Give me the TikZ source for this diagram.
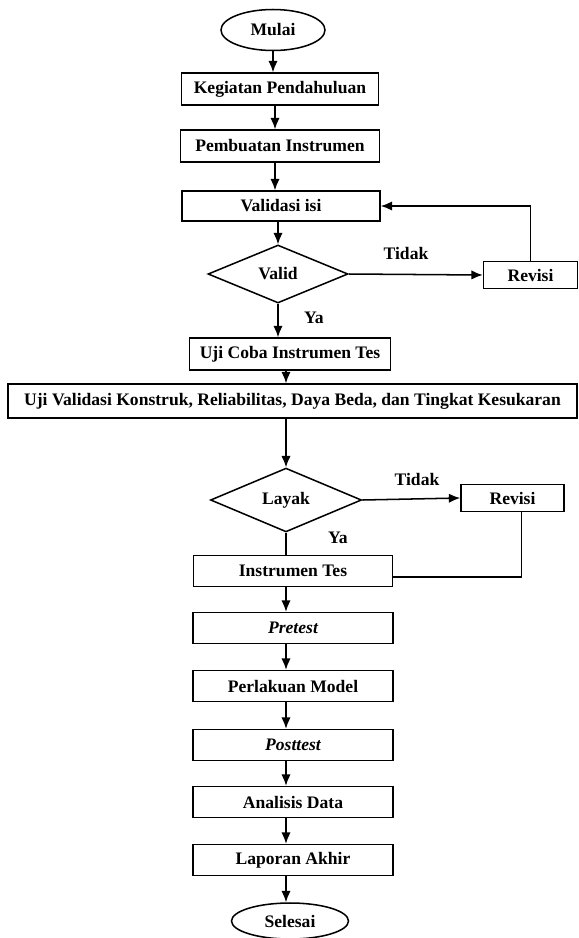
\documentclass[tikz,border=0pt]{standalone}
\usepackage{fontspec}
\setmainfont{Liberation Serif}
\usepackage{tikz}
\usetikzlibrary{calc, shapes.geometric, arrows.meta, positioning}

\begin{document}
\begin{tikzpicture}[x=0.03cm, y=-0.03cm, >=Latex]
    \tikzstyle{terminal} = [ellipse, draw, line width=1.3pt, inner sep=0pt, font=\fontsize{15}{18}\selectfont\bfseries]
    \tikzstyle{block} = [rectangle, draw, line width=1.3pt, inner sep=0pt, minimum width=6cm, minimum height=0.93cm, font=\fontsize{15}{18}\selectfont\bfseries]
    \tikzstyle{decision} = [diamond, draw, line width=1.3pt, inner sep=0pt, minimum height=1.74cm, font=\fontsize{15}{18}\selectfont\bfseries]
    \tikzstyle{label} = [font=\fontsize{15}{18}\selectfont\bfseries]
    \tikzstyle{line} = [draw, -{Latex[length=3.4mm, width=2.8mm]}, line width=1.3pt]
    \tikzstyle{joint} = [draw, line width=1.3pt]

    \useasboundingbox (0,0) rectangle (578,938);

    \node [terminal, minimum width=3.12cm, minimum height=1.23cm] (mulai) at (273,30) {Mulai};
    \node [block, minimum width=5.91cm, minimum height=0.96cm] (kegiatan) at (280,89) {Kegiatan Pendahuluan};
    \node [block, minimum width=5.97cm, minimum height=0.96cm] (pembuatan) at (280,146) {Pembuatan Instrumen};
    \node [block, minimum width=5.94cm, minimum height=0.9cm] (validasi) at (281,206) {Validasi isi};
    \node [decision, minimum width=4.2cm] (valid) at (278,274) {Valid};
    \node [block, minimum width=2.82cm, minimum height=0.81cm] (revisiA) at (530.5,275) {Revisi};
    \node [block, minimum width=6.03cm, minimum height=0.96cm] (ujicoba) at (290,354) {Uji Coba Instrumen Tes};
    \node [block, minimum width=17.07cm, minimum height=1.02cm] (ujivalidasi) at (292.5,401) {Uji Validasi Konstruk, Reliabilitas, Daya Beda, dan Tingkat Kesukaran};
    \node [decision, minimum width=4.53cm] (layak) at (286,500) {Layak};
    \node [block, minimum width=3.09cm, minimum height=0.81cm] (revisiB) at (512.5,498) {Revisi};
    \node [block, minimum width=5.97cm] (instrumen) at (293,571) {Instrumen Tes};
    \node [block] (pretest) at (293,628) {\itshape Pretest};
    \node [block] (perlakuan) at (293,686) {Perlakuan Model};
    \node [block] (posttest) at (293,745) {\itshape Posttest};
    \node [block] (analisis) at (293,802) {Analisis Data};
    \node [block] (laporan) at (293,860) {Laporan Akhir};
    \node [terminal, minimum width=3.51cm, minimum height=1.08cm] (selesai) at (290,921) {Selesai};

    \node [label] (tidakA) at (406,253) {Tidak};
    \node [label] (yaA) at (314,318) {Ya};
    \node [label] (tidakB) at (417,479) {Tidak};
    \node [label] (yaB) at (338,538) {Ya};

    \path [line] (mulai.south) -- (mulai.south |- kegiatan.north);
    \path [line] ([xshift=-0.15cm]kegiatan.south) -- ([xshift=-0.15cm]kegiatan.south |- pembuatan.north);
    \path [line] ([xshift=-0.15cm]pembuatan.south) -- ([xshift=-0.15cm]pembuatan.south |- validasi.north);
    \path [line] (valid.north |- validasi.south) -- (valid.north);
    \path [line] (valid.south) -- (valid.south |- ujicoba.north);
    \path [line] (valid.east) -- (revisiA.west);
    \path [line] (revisiA.north) |- (validasi.east);
    \path [line] (layak.north |- ujicoba.south) -- (layak.north |- ujivalidasi.north);
    \path [line] (layak.north |- ujivalidasi.south) -- (layak.north);
    \path [line] (layak.east) -- (revisiB.west);
    \path [joint] (layak.south) -- (layak.south |- instrumen.north);
    \path [joint] ([xshift=0.27cm]revisiB.south) |- ([yshift=-0.18cm]instrumen.east);
    \path [line] (layak.south |- instrumen.south) -- (layak.south |- pretest.north);
    \path [line] (layak.south |- pretest.south) -- (layak.south |- perlakuan.north);
    \path [line] (layak.south |- perlakuan.south) -- (layak.south |- posttest.north);
    \path [line] (layak.south |- posttest.south) -- (layak.south |- analisis.north);
    \path [line] (layak.south |- analisis.south) -- (layak.south |- laporan.north);
    \path [line] (layak.south |- laporan.south) -- (layak.south |- selesai.north);
\end{tikzpicture}
\end{document}
